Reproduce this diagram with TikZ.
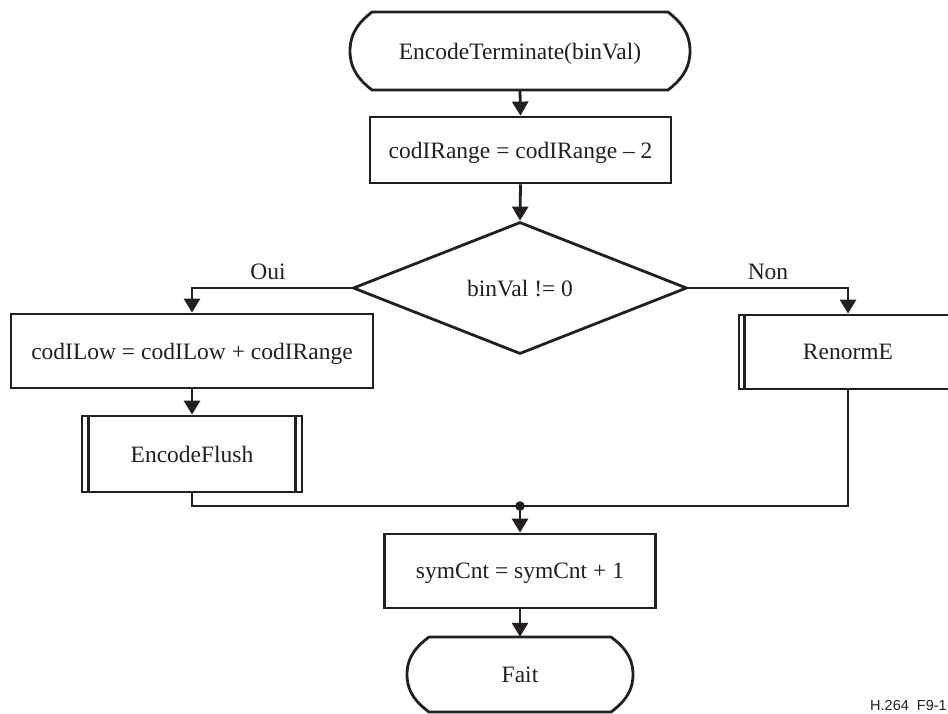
\documentclass[tikz,border=0pt]{standalone}
\usepackage{fontspec}
\setmainfont{Liberation Serif}
\newfontfamily\figsans{Liberation Sans}
\usetikzlibrary{arrows.meta,shapes.geometric,calc}

\definecolor{ink}{HTML}{231F20}

% Terminator outline: centre x, centre y, half flat length, half height, side bulge
\newcommand{\termoutline}[5]{%
  \draw[line]
    ({#1-#3},{#2-#4}) -- ({#1+#3},{#2-#4})
    .. controls ({#1+#3+0.5*#5},{#2-0.78*#4}) and ({#1+#3+#5},{#2-0.5*#4}) .. ({#1+#3+#5},{#2})
    .. controls ({#1+#3+#5},{#2+0.5*#4}) and ({#1+#3+0.5*#5},{#2+0.78*#4}) .. ({#1+#3},{#2+#4})
    -- ({#1-#3},{#2+#4})
    .. controls ({#1-#3-0.5*#5},{#2+0.78*#4}) and ({#1-#3-#5},{#2+0.5*#4}) .. ({#1-#3-#5},{#2})
    .. controls ({#1-#3-#5},{#2-0.5*#4}) and ({#1-#3-0.5*#5},{#2-0.78*#4}) .. cycle;}

\begin{document}
\begin{tikzpicture}[x=1pt,y=-1pt,
  line/.style={line width=2.8pt, draw=ink, line join=miter},
  flow/.style={line, -{Triangle[width=16pt,length=14pt]}},
  txt/.style={font=\fontsize{23.5}{28}\selectfont, text=ink, inner sep=0pt},
  boxtext/.style={txt, text depth=0pt},
  termnode/.style={boxtext, rectangle},
  procbox/.style={boxtext, rectangle, line},
  decision/.style={boxtext, diamond, line, aspect=2.53},
  branchlabel/.style={txt, anchor=base}]

\useasboundingbox (0,0) rectangle (948,713);

% start terminator
\node[termnode, minimum width=340pt, minimum height=78pt] (start) at (520,51) {EncodeTerminate(binVal)};
\termoutline{520}{51}{148}{39}{22}

% range update
\node[procbox, minimum width=301pt, minimum height=66pt] (range) at (520.5,150) {codIRange = codIRange -- 2};

% decision
\node[decision, minimum width=334pt, minimum height=132pt] (test) at (520,288) {binVal != 0};

% "Oui" branch
\node[procbox, minimum width=362pt, minimum height=74pt] (low) at (192,351) {codILow = codILow + codIRange};
\node[procbox, minimum width=220pt, minimum height=76pt] (flush) at (192,454) {EncodeFlush};
\draw[line] ([xshift=8pt]flush.north west) -- ([xshift=8pt]flush.south west);
\draw[line] ([xshift=-8pt]flush.north east) -- ([xshift=-8pt]flush.south east);

% "Non" branch
\node[procbox, minimum width=218pt, minimum height=74pt] (renorm) at (848,352) {RenormE};
\draw[line] ([xshift=7pt]renorm.north west) -- ([xshift=7pt]renorm.south west);
\draw[line] ([xshift=-7pt]renorm.north east) -- ([xshift=-7pt]renorm.south east);

% merge and tail
\coordinate (join) at (520,506);
\node[procbox, minimum width=271pt, minimum height=74pt] (count) at (520,571) {symCnt = symCnt + 1};
\node[termnode, minimum width=226pt, minimum height=75pt] (done) at (520,674.5) {Fait};
\termoutline{520}{674.5}{91}{37.5}{22}

% connectors
\draw[flow] (start.south) -- (range.north);
\draw[flow] (range.south) -- (test.north);
\draw[flow] (test.west) -| (low.north);
\draw[flow] (test.east) -| (renorm.north);
\draw[flow] (low.south) -- (flush.north);
\draw[line] (flush.south) |- (join);
\draw[line] (renorm.south) |- (join);
\fill[ink] (join) circle (4.8pt);
\draw[flow] (join) -- (count.north);
\draw[flow] (count.south) -- (done.north);

% branch labels
\node[branchlabel] (oui) at (268,279) {Oui};
\node[branchlabel] (non) at (768,279) {Non};

% figure tag
\node[anchor=base west, inner sep=0pt, text=ink, font=\figsans\fontsize{14.5}{16}\selectfont] (tag) at (870,710) {H.264\ \ F9-1};

\end{tikzpicture}
\end{document}
